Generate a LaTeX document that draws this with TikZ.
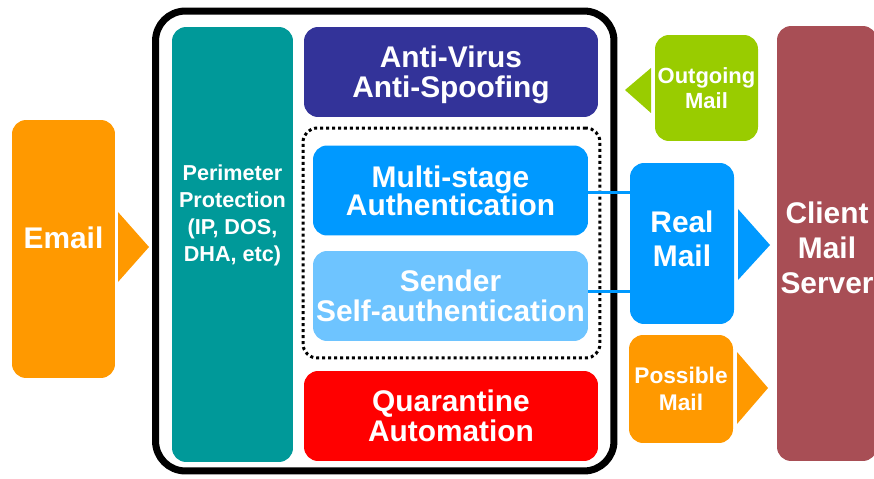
\documentclass[tikz,border=0pt]{standalone}
\usepackage{fontspec}
\setmainfont{Liberation Sans}
\usetikzlibrary{positioning}

\definecolor{mailorange}{HTML}{FF9900}
\definecolor{perimteal}{HTML}{009999}
\definecolor{virusblue}{HTML}{333399}
\definecolor{authblue}{HTML}{0099FF}
\definecolor{selfblue}{HTML}{6EC4FF}
\definecolor{outgreen}{HTML}{99CC00}
\definecolor{serverred}{HTML}{A84E55}

\begin{document}
\begin{tikzpicture}[x=0.02cm, y=-0.02cm,
      box/.style={rectangle, rounded corners=8pt, inner sep=0pt, align=center, text=white, font=\bfseries\fontsize{17}{17}\selectfont},
      smallbox/.style={box, font=\bfseries\fontsize{12.5}{14.5}\selectfont},
      boxtext/.style={inner sep=0pt, align=center, text=white, font=\bfseries\fontsize{17}{17}\selectfont},
      wide/.style={minimum width=5.88cm, minimum height=1.8cm},
      auth/.style={minimum width=5.5cm, minimum height=1.8cm},
      link/.style={authblue, line width=1.7pt}]
      \useasboundingbox (0,0) rectangle (874,479);

      % Filter frame
      \node[draw, line width=4pt, rounded corners=17pt, minimum width=9.17cm, minimum height=9.2cm] (filter) at (384.75,241) {};
      \node[box, fill=perimteal, minimum width=2.42cm, minimum height=8.7cm] (perim) at (232.5,244.5) {};
      \node[text=white, align=center, font=\bfseries\fontsize{12.3}{15.4}\selectfont] (perimtext) at (232.5,215) {Perimeter\\Protection\\(IP, DOS,\\DHA, etc)};
      \node[box, wide, fill=virusblue] (virus) at (451,72) {};
      \node[boxtext] (virustext) at (451,75) {Anti-Virus\\Anti-Spoofing};
      \node[draw, line width=1.7pt, dash pattern=on 1.7pt off 1.7pt, rounded corners=8pt, minimum width=5.94cm, minimum height=4.6cm] (authgroup) at (451.5,243) {};
      \node[box, auth, fill=authblue, font=\bfseries\fontsize{17}{16}\selectfont] (multi) at (450.5,190.5) {Multi-stage\\Authentication};
      \node[box, auth, fill=selfblue] (sender) at (450.5,296) {Sender\\Self-authentication};
      \node[box, wide, fill=red] (quarantine) at (451,416) {Quarantine\\Automation};

      % Mail boxes
      \node[box, fill=mailorange, minimum width=2.06cm, minimum height=5.16cm] (email) at (63.5,249) {};
      \node[boxtext] (emailtext) at (63.5,238) {Email};
      \node[smallbox, fill=outgreen, minimum width=2.06cm, minimum height=2.12cm] (outgoing) at (706.5,88) {Outgoing\\Mail};
      \node[box, fill=authblue, minimum width=2.08cm, minimum height=3.22cm] (real) at (682,243.5) {};
      \node[boxtext, font=\bfseries\fontsize{17}{19.6}\selectfont] (realtext) at (682,239) {Real\\Mail};
      \node[smallbox, fill=mailorange, minimum width=2.08cm, minimum height=2.16cm, font=\bfseries\fontsize{12.9}{15.4}\selectfont] (possible) at (681,389) {Possible\\Mail};
      \node[box, fill=serverred, minimum width=2cm, minimum height=8.7cm] (server) at (827,243.5) {};
      \node[boxtext, font=\bfseries\fontsize{17}{20}\selectfont] (servertext) at (827,248) {Client\\Mail\\Server};

      % Links to real mail
      \draw[link] ([yshift=-1.4pt]multi.east) -- ([yshift=-1.4pt]multi.east -| real.west);
      \draw[link] ([yshift=2.8pt]sender.east) -- ([yshift=2.8pt]sender.east -| real.west);

      % Arrow heads
      \fill[mailorange] (118,212) -- (149,247) -- (118,282) -- cycle;
      \fill[outgreen] (651,68) -- (625,90) -- (651,113) -- cycle;
      \fill[authblue] (738,209) -- (770,245) -- (738,280) -- cycle;
      \fill[mailorange] (737,352) -- (768,388) -- (737,424) -- cycle;
    \end{tikzpicture}
\end{document}
